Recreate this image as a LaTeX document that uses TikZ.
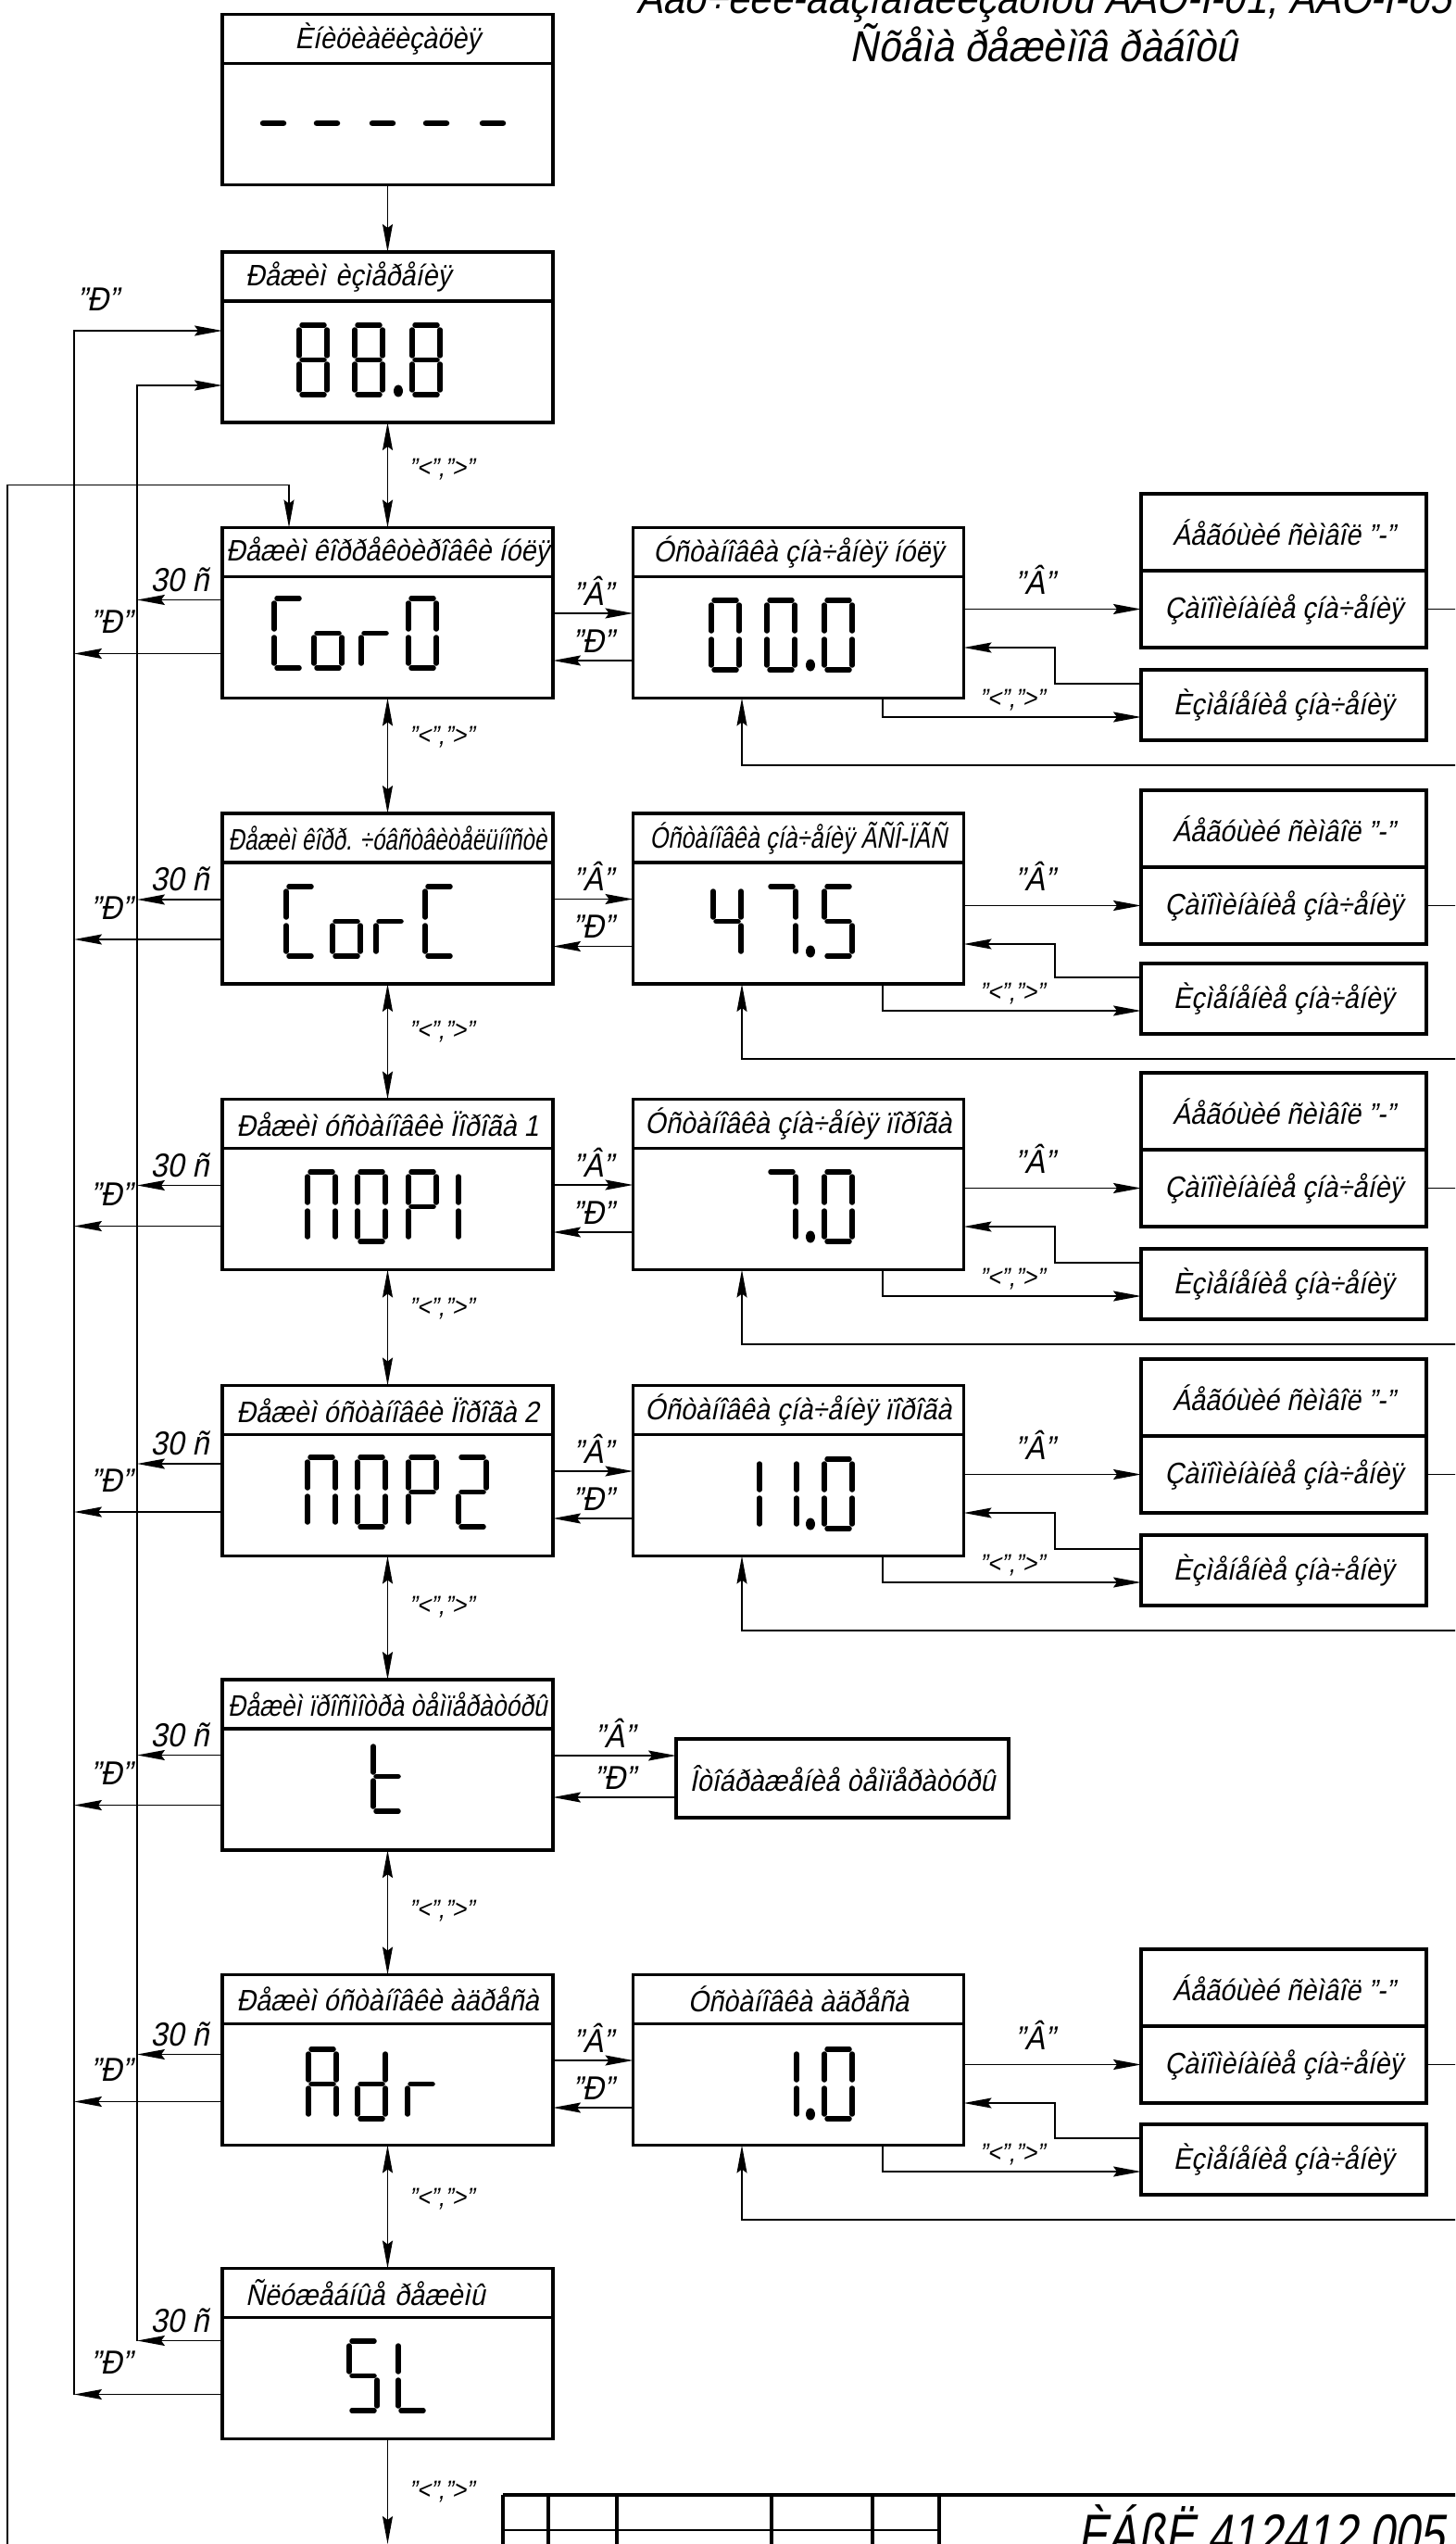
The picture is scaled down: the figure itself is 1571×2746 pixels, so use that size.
\documentclass[tikz,border=0pt]{standalone}
\usepackage{fontspec}
\usepackage{graphicx}
\setmainfont{Liberation Sans}[FakeSlant=0.2,FakeStretch=0.9]
\usetikzlibrary{arrows.meta,positioning}

\newcommand{\boxfont}{\fontsize{9.1}{10.5}\selectfont}
\newcommand{\keyfont}{\fontsize{10.2}{11}\selectfont}
\newcommand{\cmdfont}{\fontsize{8}{9}\selectfont}
\newcommand{\titlefont}{\fontsize{13.3}{15}\selectfont}
\newcommand{\numfont}{\fontsize{18}{20}\selectfont}

% seven-segment display, cell 30 x 75 (x=0.1mm)
\newcommand{\segA}{\draw[seg] (3,0) -- (27,0);}
\newcommand{\segB}{\draw[seg] (30,5) -- (30,33);}
\newcommand{\segC}{\draw[seg] (30,42) -- (30,70);}
\newcommand{\segD}{\draw[seg] (3,75) -- (27,75);}
\newcommand{\segE}{\draw[seg] (0,42) -- (0,70);}
\newcommand{\segF}{\draw[seg] (0,5) -- (0,33);}
\newcommand{\segG}{\draw[seg] (3,37.5) -- (27,37.5);}
\newcommand{\digit}[3]{\begin{scope}[shift={(#1,#2)}]#3\end{scope}}
\newcommand{\segdot}[2]{\fill (#1,#2) ellipse[x radius=0.5mm,y radius=0.65mm];}

\begin{document}
\begin{tikzpicture}[x=0.1mm,y=-0.1mm,
 box/.style={draw,line width=0.35mm,inner sep=0pt,outer sep=0pt},
 hdr/.style={box,minimum width=35.7mm,minimum height=5.3mm,font=\boxfont},
 hdrl/.style={hdr,text width=30.7mm,inner xsep=2.5mm,align=left},
 body/.style={box,minimum width=35.7mm,minimum height=13.1mm},
 side/.style={box,minimum width=30.8mm,minimum height=8.3mm,font=\boxfont},
 wire/.style={line width=0.15mm},
 arrow/.style={wire,-{Stealth[length=3mm,width=1.1mm,inset=0.4mm]}},
 dblarrow/.style={wire,{Stealth[length=3mm,width=1.1mm,inset=0.4mm]}-{Stealth[length=3mm,width=1.1mm,inset=0.4mm]}},
 key/.style={font=\keyfont,inner sep=0.5mm},
 cmd/.style={font=\cmdfont,inner sep=0pt},
 seg/.style={line width=0.55mm,line cap=round},
 frame/.style={line width=0.4mm}
]
\useasboundingbox (0,0) rectangle (1571,2746);
\clip (0,0) rectangle (1571,2746);

\node[font=\titlefont,anchor=base] (title) at (1127,15) {Äàò÷èêè-ãàçîàíàëèçàòîðû ÄÀÒ-Ì-01, ÄÀÒ-Ì-05};
\node[font=\titlefont,anchor=base] (subtitle) at (1127,67) {Ñõåìà ðåæèìîâ ðàáîòû};

% main column
\node[hdr] (inith) at (418.5,42) {Èíèöèàëèçàöèÿ};
\node[body,below=0pt of inith] (init) {};
\node[hdrl] (meash) at (418.5,298.5) {Ðåæèì èçìåðåíèÿ};
\node[body,below=0pt of meash] (meas) {};
\node[hdr] (cor0h) at (418.5,596) {Ðåæèì êîððåêòèðîâêè íóëÿ};
\node[body,below=0pt of cor0h] (cor0) {};
\node[hdr] (corch) at (418.5,904.5) {\scalebox{0.84}[1]{Ðåæèì êîðð. ÷óâñòâèòåëüíîñòè}};
\node[body,below=0pt of corch] (corc) {};
\node[hdr] (nop1h) at (418.5,1213) {Ðåæèì óñòàíîâêè Ïîðîãà 1};
\node[body,below=0pt of nop1h] (nop1) {};
\node[hdr] (nop2h) at (418.5,1522) {Ðåæèì óñòàíîâêè Ïîðîãà 2};
\node[body,below=0pt of nop2h] (nop2) {};
\node[hdr] (temph) at (418.5,1839.5) {\scalebox{0.92}[1]{Ðåæèì ïðîñìîòðà òåìïåðàòóðû}};
\node[body,below=0pt of temph] (temp) {};
\node[hdr] (adrh) at (418.5,2158) {Ðåæèì óñòàíîâêè àäðåñà};
\node[body,below=0pt of adrh] (adr) {};
\node[hdrl] (slh) at (418.5,2475) {Ñëóæåáíûå ðåæèìû};
\node[body,below=0pt of slh] (sl) {};

% setting column
\node[hdr] (zeroh) at (862,596) {Óñòàíîâêà çíà÷åíèÿ íóëÿ};
\node[body,below=0pt of zeroh] (zero) {};
\node[hdr] (gsoh) at (862,904.5) {\scalebox{0.88}[1]{Óñòàíîâêà çíà÷åíèÿ ÃÑÎ-ÏÃÑ}};
\node[body,below=0pt of gsoh] (gso) {};
\node[hdr] (lim1h) at (862,1213) {Óñòàíîâêà çíà÷åíèÿ ïîðîãà};
\node[body,below=0pt of lim1h] (lim1) {};
\node[hdr] (lim2h) at (862,1522) {Óñòàíîâêà çíà÷åíèÿ ïîðîãà};
\node[body,below=0pt of lim2h] (lim2) {};
\node[hdr] (addrh) at (862,2158) {Óñòàíîâêà àäðåñà};
\node[body,below=0pt of addrh] (addr) {};
\node[box,minimum width=35.9mm,minimum height=8.5mm,font=\boxfont] (tview) at (909.5,1919.5) {Îòîáðàæåíèå òåìïåðàòóðû};

\coordinate (tline) at (148,0);
\coordinate (eline) at (80,0);
\coordinate (rim) at (1580,0);
\coordinate (loopfoot) at (8,2760);
\coordinate (exit) at (418.5,2746);

% displays
\foreach \x in {280,338,398,456,517} {\draw[seg,line width=0.65mm] (\x+4,133) -- (\x+26,133);}
\foreach \x in {323,383,445} {\digit{\x}{351}{\segA\segB\segC\segD\segE\segF\segG}}
\segdot{430}{422}
\digit{296}{646}{\segA\segD\segE\segF}
\digit{339}{646}{\segC\segD\segE\segG}
\digit{390}{646}{\segE\segG}
\digit{441}{646}{\segA\segB\segC\segD\segE\segF}
\digit{309}{957}{\segA\segD\segE\segF}
\digit{359}{957}{\segC\segD\segE\segG}
\digit{406}{957}{\segE\segG}
\digit{459}{957}{\segA\segD\segE\segF}
\digit{332}{1265}{\segA\segB\segC\segE\segF}
\digit{386}{1265}{\segA\segB\segC\segD\segE\segF}
\digit{441}{1265}{\segA\segB\segE\segF\segG}
\digit{465}{1265}{\segB\segC}
\digit{332}{1573}{\segA\segB\segC\segE\segF}
\digit{386}{1573}{\segA\segB\segC\segD\segE\segF}
\digit{441}{1573}{\segA\segB\segE\segF\segG}
\digit{495}{1573}{\segA\segB\segD\segE\segG}
\digit{403}{1880}{\segD\segE\segF\segG}
\digit{333}{2212}{\segA\segB\segC\segE\segF\segG}
\digit{386}{2212}{\segB\segC\segD\segE\segG}
\digit{440}{2212}{\segE\segG}
\digit{377}{2527}{\segA\segC\segD\segF\segG}
\digit{430}{2527}{\segD\segE\segF}
\digit{768}{648}{\segA\segB\segC\segD\segE\segF}
\digit{828}{648}{\segA\segB\segC\segD\segE\segF}
\segdot{875}{718}
\digit{890}{648}{\segA\segB\segC\segD\segE\segF}
\digit{770}{957}{\segB\segC\segF\segG}
\digit{829}{957}{\segA\segB\segC}
\segdot{875}{1027}
\digit{890}{957}{\segA\segC\segD\segF\segG}
\digit{829}{1265}{\segA\segB\segC}
\segdot{875}{1335}
\digit{890}{1265}{\segA\segB\segC\segD\segE\segF}
\digit{790}{1575}{\segB\segC}
\digit{830}{1575}{\segB\segC}
\segdot{875}{1645}
\digit{890}{1575}{\segA\segB\segC\segD\segE\segF}
\digit{830}{2212}{\segB\segC}
\segdot{875}{2282}
\digit{890}{2212}{\segA\segB\segC\segD\segE\segF}

% right-hand clusters
\foreach \s/\bt/\et in {zero/533/723,gso/853/1040,lim1/1158/1348,lim2/1467/1657,addr/2104/2293}{
  \node[side] (run\s) at (1386,\bt+41.5) {Áåãóùèé ñèìâîë "-"};
  \node[side,below=0pt of run\s] (save\s) {Çàïîìèíàíèå çíà÷åíèÿ};
  \node[side,minimum height=7.6mm] (edit\s) at (1386,\et+38) {Èçìåíåíèå çíà÷åíèÿ};
  \draw[arrow] (\s.east |- save\s.west) -- (save\s.west) node[key,pos=0.4,above=1mm] {"Â"};
  \draw[wire] (save\s.east) -- (save\s.east -| rim);
  \draw[arrow] ([yshift=2.3mm]edit\s.west) -| ([xshift=-9.3mm]save\s.south west) -- (\s.east |- save\s.south);
  \draw[arrow] ([xshift=9.1mm]\s.south) |- ([yshift=-1.3mm]edit\s.west) node[cmd,pos=0.75,above=0.6mm] {"<",">"};
  \draw[arrow] ([yshift=-2.7mm]edit\s.south -| rim) -| ([xshift=-6.1mm]\s.south);
}

% main <-> setting
\foreach \m/\s in {cor0/zero,corc/gso,nop1/lim1,nop2/lim2,adr/addr}{
  \draw[arrow] ([yshift=2.6mm]\m.east) -- ([yshift=2.6mm]\s.west) node[key,midway,above=0.3mm] {"Â"};
  \draw[arrow] ([yshift=-2.5mm]\s.west) -- ([yshift=-2.5mm]\m.east) node[key,midway,above=0.3mm] {"Ð"};
}
\draw[arrow] ([yshift=2.45mm]tview.west -| temp.east) -- ([yshift=2.45mm]tview.west) node[key,midway,above=0.3mm] {"Â"};
\draw[arrow] ([yshift=-2.05mm]tview.west) -- ([yshift=-2.05mm]tview.west -| temp.east) node[key,midway,above=0.3mm] {"Ð"};

% timeout and exit
\foreach \m/\a/\b in {cor0/4.05/-1.75,corc/2.55/-1.75,nop1/2.55/-1.85,nop2/3.4/-1.8,temp/3.7/-1.7,adr/3.25/-1.85,sl/4.05/-1.75}{
  \draw[arrow] ([yshift=\a mm]\m.west) -- ([yshift=\a mm]\m.west -| tline) node[key,midway,above=0.3mm] {30 ñ};
  \draw[arrow] ([yshift=\b mm]\m.west) -- ([yshift=\b mm]\m.west -| eline) node[key,pos=0.75,above=1.6mm] {"Ð"};
}
\draw[arrow] ([yshift=4.05mm]sl.west -| tline) |- ([yshift=-2.55mm]meas.west);
\draw[arrow] ([yshift=-1.75mm]sl.west -| eline) |- ([yshift=3.35mm]meas.west) node[key,pos=0.58,above=1.6mm] {"Ð"};
\draw[arrow] (loopfoot) |- ([xshift=-10.65mm,yshift=4.6mm]cor0h.north) -- ([xshift=-10.65mm]cor0h.north);

% mode sequence
\draw[arrow] (init.south) -- (meash.north);
\draw[dblarrow] (meas.south) -- (cor0h.north) node[cmd,midway,xshift=5.8mm,yshift=0.6mm] {"<",">"};
\draw[dblarrow] (cor0.south) -- (corch.north) node[cmd,midway,xshift=5.8mm,yshift=2mm] {"<",">"};
\draw[dblarrow] (corc.south) -- (nop1h.north) node[cmd,midway,xshift=5.8mm,yshift=1.1mm] {"<",">"};
\draw[dblarrow] (nop1.south) -- (nop2h.north) node[cmd,midway,xshift=5.8mm,yshift=2mm] {"<",">"};
\draw[dblarrow] (nop2.south) -- (temph.north) node[cmd,midway,xshift=5.8mm,yshift=1.2mm] {"<",">"};
\draw[dblarrow] (temp.south) -- (adrh.north) node[cmd,midway,xshift=5.8mm,yshift=0.2mm] {"<",">"};
\draw[dblarrow] (adr.south) -- (slh.north) node[cmd,midway,xshift=5.8mm,yshift=0.8mm] {"<",">"};
\draw[arrow] (sl.south) -- (exit) node[cmd,midway,xshift=5.8mm] {"<",">"};

% title block
\draw[frame] (543,2693) -- (1580,2693);
\foreach \x in {543,592,666,833,942,1014} {\draw[frame] (\x,2693) -- (\x,2760);}
\draw[wire] (543,2731) -- (1014,2731);
\node[font=\numfont,anchor=base west,inner sep=0pt] (code) at (1163,2758) {\scalebox{0.85}[1]{ÈÁßË.412412.005}};
\end{tikzpicture}
\end{document}
